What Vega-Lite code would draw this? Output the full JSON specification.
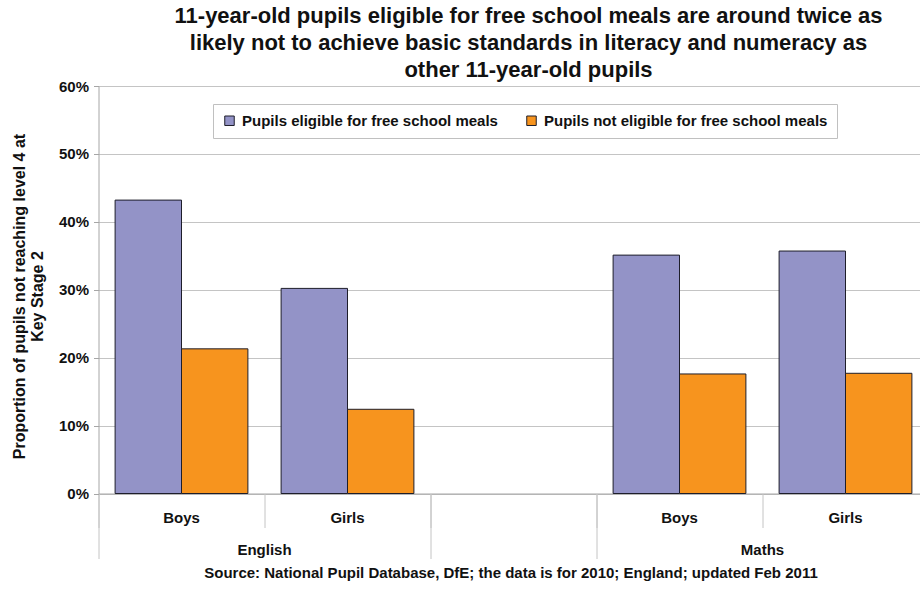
{
  "$schema": "https://vega.github.io/schema/vega-lite/v6.json",
  "autosize": "none",
  "width": 830,
  "height": 407.5,
  "padding": {"left": 98.5, "top": 86, "right": -8.5, "bottom": 95.5},
  "background": "white",
  "title": {
    "text": [
      "11-year-old pupils eligible for free school meals are around twice as",
      "likely not to achieve basic standards in literacy and numeracy as",
      "other 11-year-old pupils"
    ],
    "font": "Liberation Sans",
    "fontSize": 22,
    "fontWeight": "bold",
    "lineHeight": 27,
    "anchor": "middle",
    "dx": 15,
    "offset": -3,
    "color": "#111111"
  },
  "config": {
    "font": "Liberation Sans",
    "view": {"stroke": null},
    "axis": {"labelColor": "#111111", "titleColor": "#111111"}
  },
  "data": {
    "values": [
      {"slot": "English|Boys", "group": "Pupils eligible for free school meals", "share": 0.432},
      {"slot": "English|Boys", "group": "Pupils not eligible for free school meals", "share": 0.213},
      {"slot": "English|Girls", "group": "Pupils eligible for free school meals", "share": 0.302},
      {"slot": "English|Girls", "group": "Pupils not eligible for free school meals", "share": 0.124},
      {"slot": "Maths|Boys", "group": "Pupils eligible for free school meals", "share": 0.351},
      {"slot": "Maths|Boys", "group": "Pupils not eligible for free school meals", "share": 0.176},
      {"slot": "Maths|Girls", "group": "Pupils eligible for free school meals", "share": 0.357},
      {"slot": "Maths|Girls", "group": "Pupils not eligible for free school meals", "share": 0.177}
    ]
  },
  "resolve": {"axis": {"x": "independent"}},
  "layer": [
    {
      "mark": {"type": "bar", "stroke": "#1e1e2a", "strokeWidth": 1},
      "encoding": {
        "x": {
          "field": "slot",
          "type": "nominal",
          "sort": null,
          "scale": {
            "domain": ["English|Boys", "English|Girls", "gap", "Maths|Boys", "Maths|Girls"],
            "paddingInner": 0,
            "paddingOuter": 0
          },
          "axis": {
            "orient": "bottom",
            "title": null,
            "ticks": false,
            "grid": false,
            "domainColor": "#a6a6a6",
            "labelAngle": 0,
            "labelFontSize": 15,
            "labelFontWeight": "bold",
            "labelPadding": 17,
            "labelExpr": "indexof(datum.value, '|') > 0 ? split(datum.value, '|')[1] : ''"
          }
        },
        "xOffset": {
          "field": "group",
          "type": "nominal",
          "scale": {"paddingOuter": 0.25, "paddingInner": 0}
        },
        "y": {
          "field": "share",
          "type": "quantitative",
          "scale": {"domain": [0, 0.6], "nice": false},
          "axis": {
            "values": [0, 0.1, 0.2, 0.3, 0.4, 0.5, 0.6],
            "format": ".0%",
            "title": ["Proportion of pupils not reaching level 4 at", "Key Stage 2"],
            "titleFontSize": 16,
            "titleFontWeight": "bold",
            "titleLineHeight": 18,
            "titlePadding": 13,
            "titleY": 210,
            "labelFontSize": 15,
            "labelFontWeight": "bold",
            "labelPadding": 5,
            "tickSize": 5,
            "tickColor": "#a6a6a6",
            "domainColor": "#a6a6a6",
            "gridColor": "#c4c4c4",
            "gridWidth": 1
          }
        },
        "fill": {
          "field": "group",
          "type": "nominal",
          "scale": {
            "domain": ["Pupils eligible for free school meals", "Pupils not eligible for free school meals"],
            "range": ["#9393c7", "#f7941e"]
          },
          "legend": {
            "orient": "none",
            "legendX": 114.5,
            "legendY": 18,
            "direction": "horizontal",
            "title": null,
            "fillColor": "white",
            "strokeColor": "#c0c0c0",
            "padding": 9,
            "columnPadding": 26,
            "symbolType": "square",
            "symbolSize": 90,
            "symbolStrokeColor": "#1e1e2a",
            "symbolStrokeWidth": 1,
            "labelFontSize": 15,
            "labelFontWeight": "bold",
            "labelLimit": 400,
            "labelOffset": 5,
            "labelColor": "#111111"
          }
        }
      }
    },
    {
      "mark": {"type": "rule", "opacity": 0},
      "encoding": {
        "x": {
          "field": "slot",
          "type": "nominal",
          "sort": null,
          "axis": {
            "orient": "bottom",
            "title": null,
            "values": ["English|Boys", "English|Girls", "gap", "Maths|Boys", "Maths|Girls"],
            "bandPosition": 0,
            "labels": false,
            "domain": false,
            "grid": false,
            "tickSize": 34,
            "tickColor": "#c4c4c4"
          }
        }
      }
    },
    {
      "mark": {"type": "rule", "opacity": 0},
      "encoding": {
        "x": {
          "field": "slot",
          "type": "nominal",
          "sort": null,
          "axis": {
            "orient": "bottom",
            "title": null,
            "values": ["English|Boys", "gap", "Maths|Boys"],
            "bandPosition": 0,
            "labels": false,
            "domain": false,
            "grid": false,
            "tickSize": 65,
            "tickColor": "#c4c4c4"
          }
        }
      }
    },
    {
      "mark": {"type": "rule", "opacity": 0},
      "encoding": {
        "x": {
          "field": "slot",
          "type": "nominal",
          "sort": null,
          "axis": {
            "orient": "bottom",
            "values": ["English|Girls", "Maths|Girls"],
            "ticks": false,
            "domain": false,
            "grid": false,
            "labelAngle": 0,
            "labelOffset": -83,
            "labelFontSize": 15,
            "labelFontWeight": "bold",
            "labelPadding": 49,
            "labelExpr": "split(datum.value, '|')[0]",
            "title": "Source: National Pupil Database, DfE; the data is for 2010; England; updated Feb 2011",
            "titleFontSize": 15,
            "titleFontWeight": "bold",
            "titlePadding": 8,
            "titleX": 412
          }
        }
      }
    }
  ]
}
